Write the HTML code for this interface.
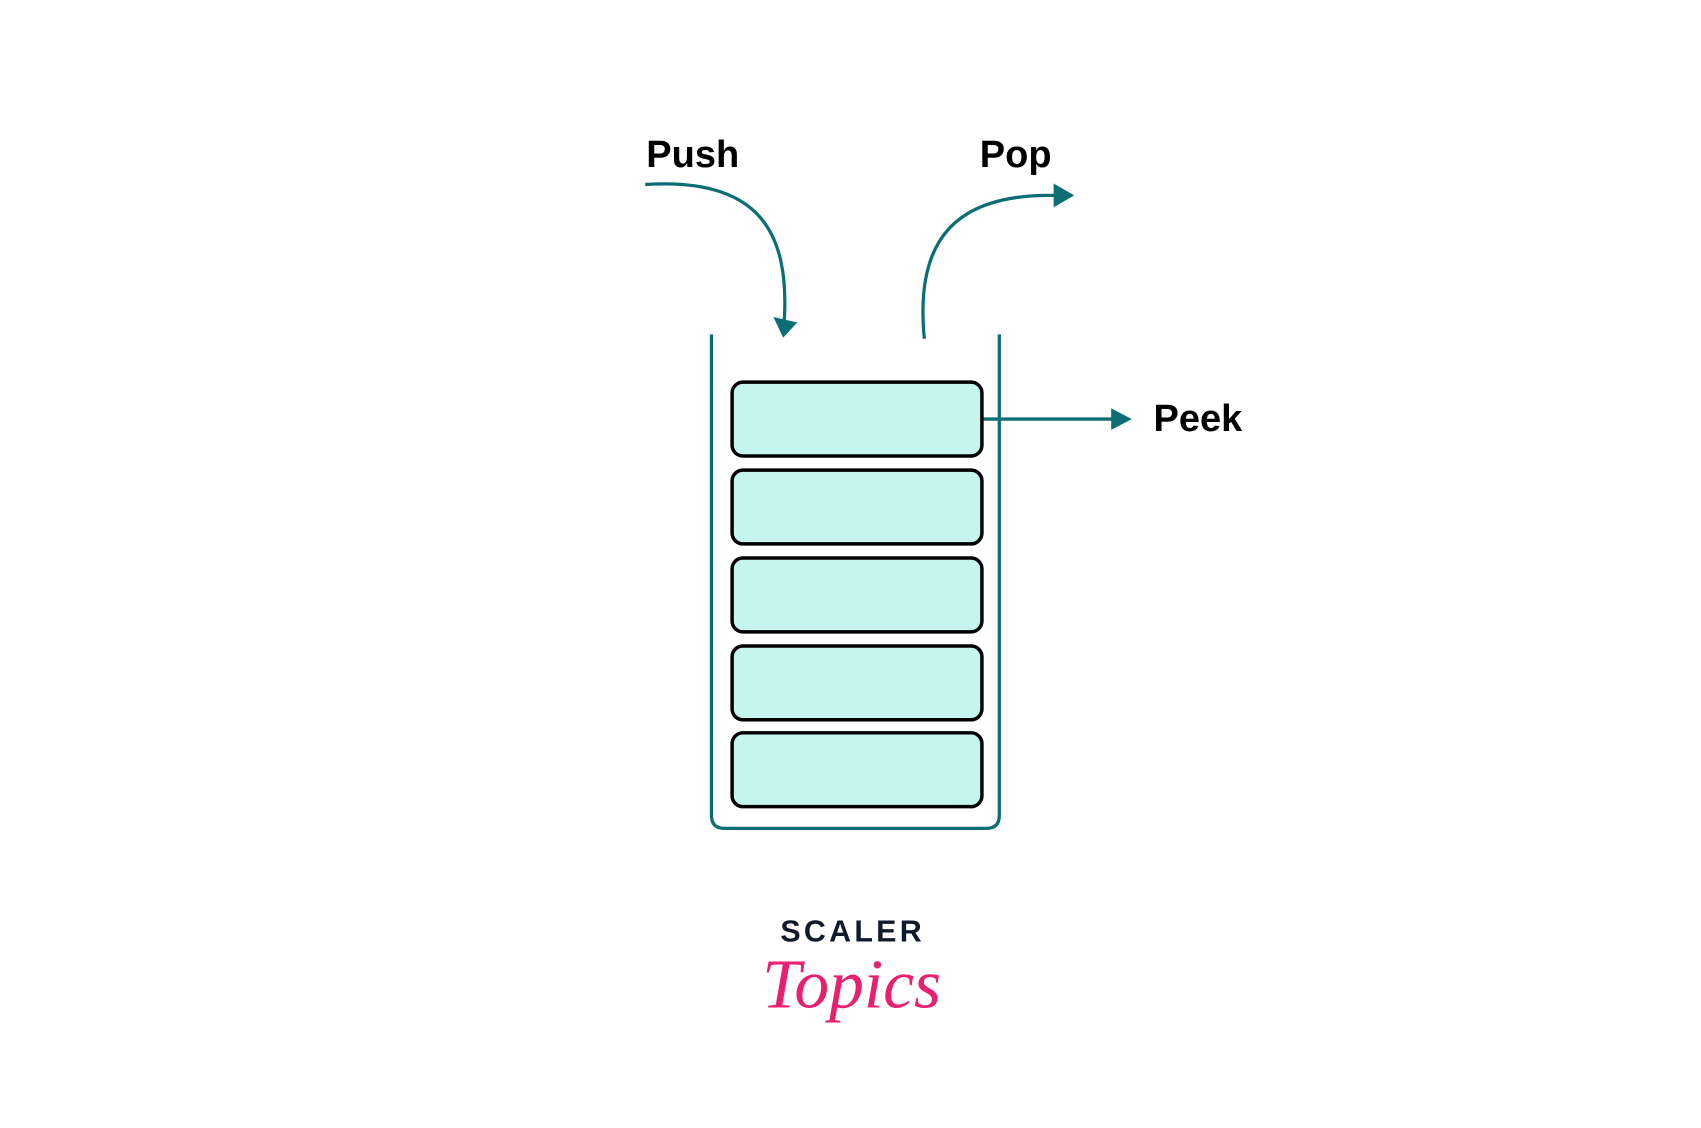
<!DOCTYPE html>
<html><head><meta charset="utf-8"><style>
html,body{margin:0;padding:0;background:#fff;}
svg{display:block;}
</style></head><body>
<svg width="1701" height="1128" viewBox="0 0 1566 1039" preserveAspectRatio="none" xmlns="http://www.w3.org/2000/svg">
<rect width="1566" height="1039" fill="#fff"/>
<g font-family="'Liberation Sans', sans-serif" font-weight="bold" fill="#000" font-size="35">
<text x="595" y="154">Push</text>
<text x="902" y="154">Pop</text>
<text x="1062" y="397">Peek</text>
</g>
<g fill="none" stroke="#0b6e74" stroke-width="3">
<path d="M594,170 C700,163 727,215 722,296"/>
<path d="M851,312 C842,222 878,178 972,180"/>
<path d="M904,386 L1026,386"/>
<path d="M655,308 L655,751 Q655,763 667,763 L908,763 Q920,763 920,751 L920,308"/>
</g>
<g fill="#0b6e74">
<polygon points="712,292 734,297 721,311"/>
<polygon points="970,169 989,180 970,191"/>
<polygon points="1023,376 1042,386 1023,396"/>
</g>
<g fill="#c4f5ef" stroke="#000" stroke-width="3.2">
<rect x="674" y="352" width="230" height="68" rx="10"/>
<rect x="674" y="433" width="230" height="68" rx="10"/>
<rect x="674" y="514" width="230" height="68" rx="10"/>
<rect x="674" y="595" width="230" height="68" rx="10"/>
<rect x="674" y="675" width="230" height="68" rx="10"/>
</g>
<text x="785" y="867" text-anchor="middle" font-family="'Liberation Sans', sans-serif" font-weight="bold" font-size="28" letter-spacing="3" fill="#0f1b2d">SCALER</text>
<text x="784" y="928" text-anchor="middle" font-family="'Liberation Serif', serif" font-style="italic" font-size="64" fill="#e8206f">Topics</text>
</svg>
</body></html>
